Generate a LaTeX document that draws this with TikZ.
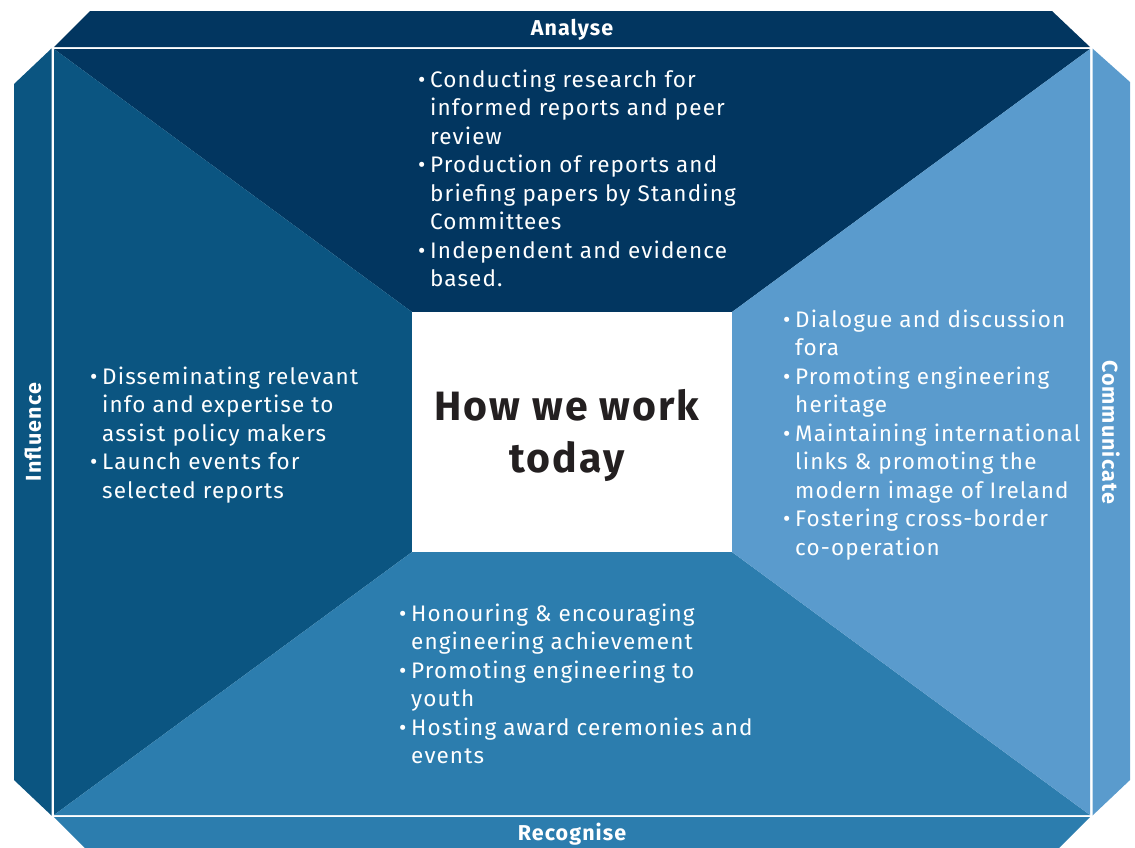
\documentclass[tikz,border=0pt]{standalone}
\usepackage{fontspec}
\setmainfont{Fira Sans}[LetterSpace=5]
\definecolor{cTop}{HTML}{023660}
\definecolor{cLeft}{HTML}{0B5581}
\definecolor{cBot}{HTML}{2C7DAE}
\definecolor{cRight}{HTML}{5A9BCD}
\definecolor{cTitle}{HTML}{231F20}
\newcommand\bl{\makebox[12pt][l]{\textbullet}}
\newcommand\ind{\hspace*{12pt}}
\tikzset{
  txt/.style={font=\fontsize{22.5}{28.5}\selectfont, text=white, align=left, inner sep=0pt, anchor=base west},
  lbl/.style={font=\fontsize{21.5}{22}\selectfont\bfseries, text=white, inner sep=0pt},
}
\begin{document}
\begin{tikzpicture}[x=1pt,y=-1pt]
\useasboundingbox (0,0) rectangle (1135,847);
% outer bands
\fill[cTop] (90,11) -- (1052,11) -- (1090,47) -- (54,47) -- cycle;
\fill[cLeft] (14,84) -- (51.5,48.5) -- (51.5,815.5) -- (14,780) -- cycle;
\fill[cRight] (1092.5,48.5) -- (1130,82) -- (1130,780) -- (1092.5,815.5) -- cycle;
\fill[cBot] (54,817) -- (1090,817) -- (1054,853) -- (90,853) -- cycle;
% inner trapezoids
\fill[cTop] (54,49) -- (1090,49) -- (732,312) -- (412,312) -- cycle;
\fill[cLeft] (54,49) -- (412,312) -- (412,552) -- (54,815) -- cycle;
\fill[cBot] (54,815) -- (412,552) -- (732,552) -- (1090,815) -- cycle;
\fill[cRight] (1090,49) -- (1090,815) -- (732,552) -- (732,312) -- cycle;
\fill[white] (412,312) rectangle (732,552);
% labels
\node[lbl] (analyse) at (572,29.5) {Analyse};
\node[lbl] (recognise) at (572,834) {Recognise};
\node[lbl, rotate=90] (influence) at (33,432) {Influence};
\node[lbl, rotate=-90] (communicate) at (1111,432) {Communicate};
% center
\node[font=\fontsize{41}{52}\selectfont\bfseries, text=cTitle, align=center, inner sep=0pt, anchor=base] (title) at (567,472) {How we work\\today};
% texts (anchor = baseline of last line)
\node[txt] (ttop) at (418,286.5) {\bl Conducting research for\\\ind informed reports and peer\\\ind review\\\bl Production of reports and\\\ind briefing papers by Standing\\\ind Committees\\\bl Independent and evidence\\\ind based.};
\node[txt] (tleft) at (90,498) {\bl Disseminating relevant\\\ind info and expertise to\\\ind assist policy makers\\\bl Launch events for\\\ind selected reports};
\node[txt] (tright) at (783,555) {\bl Dialogue and discussion\\\ind fora\\\bl Promoting engineering\\\ind heritage\\\bl Maintaining international\\\ind links \& promoting the\\\ind modern image of Ireland\\\bl Fostering cross-border\\\ind co-operation};
\node[txt] (tbot) at (399,763.5) {\bl Honouring \& encouraging\\\ind engineering achievement\\\bl Promoting engineering to\\\ind youth\\\bl Hosting award ceremonies and\\\ind events};
\end{tikzpicture}
\end{document}
